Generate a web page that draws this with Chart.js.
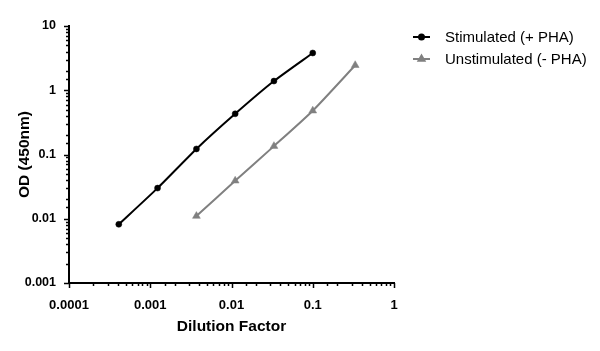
<!DOCTYPE html>
<html>
<head>
<meta charset="utf-8">
<script src="https://cdn.jsdelivr.net/npm/chart.js@4"></script>
<style>
  html, body { margin: 0; padding: 0; background: #fff; }
  #wrap { width: 600px; height: 351px; }
</style>
</head>
<body>
<div id="wrap"><canvas id="chart" width="600" height="351"></canvas></div>
<script>
// ── Data ─────────────────────────────────────────────────────────────────────
const SERIES_NAMES = ['Stimulated (+ PHA)', 'Unstimulated (- PHA)'];
const STIM_X   = [0.00041, 0.00123, 0.0037, 0.0111, 0.0333, 0.1];
const STIM_Y   = [0.0082, 0.030, 0.122, 0.43, 1.39, 3.8];
const UNSTIM_X = [0.0037, 0.0111, 0.0333, 0.1, 0.333];
const UNSTIM_Y = [0.011, 0.039, 0.135, 0.48, 2.45];
const X_RANGE  = [0.0001, 1];
const Y_RANGE  = [0.001, 10];

const BOLD = '"Liberation Sans", Arial, sans-serif';

const toPoints = (xs, ys) => xs.map((x, i) => ({ x, y: ys[i] }));
const isDecade = v => Math.abs(Math.log10(v) - Math.round(Math.log10(v))) < 1e-6;

// Axis lines with long decade ticks and short minor ticks
const axisPlugin = {
  id: 'axisPlugin',
  afterDraw(chart) {
    const { ctx, chartArea: a, scales } = chart;
    ctx.save();
    ctx.strokeStyle = '#000';
    ctx.lineWidth = 2;
    ctx.beginPath();
    ctx.moveTo(a.left, a.top - 1);
    ctx.lineTo(a.left, a.bottom);
    ctx.lineTo(a.right + 1, a.bottom);
    ctx.stroke();
    ctx.lineWidth = 1.5;
    scales.y.ticks.forEach(t => {
      const py = Math.round(scales.y.getPixelForValue(t.value)) + 0.5;
      const len = isDecade(t.value) ? 5 : 3;
      ctx.beginPath(); ctx.moveTo(a.left - len, py); ctx.lineTo(a.left, py); ctx.stroke();
    });
    scales.x.ticks.forEach(t => {
      const px = Math.round(scales.x.getPixelForValue(t.value)) + 0.5;
      const len = isDecade(t.value) ? 5 : 3;
      ctx.beginPath(); ctx.moveTo(px, a.bottom); ctx.lineTo(px, a.bottom + len); ctx.stroke();
    });
    ctx.restore();
  }
};

// Legend to the right of the plot
const legendPlugin = {
  id: 'sideLegend',
  afterDraw(chart) {
    const { ctx } = chart;
    ctx.save();
    ctx.font = '15px ' + BOLD;
    ctx.textBaseline = 'middle';
    chart.data.datasets.forEach((ds, i) => {
      const y = 37 + i * 22;
      ctx.strokeStyle = ds.borderColor;
      ctx.fillStyle = ds.borderColor;
      ctx.lineWidth = 2;
      ctx.beginPath(); ctx.moveTo(413, y); ctx.lineTo(430, y); ctx.stroke();
      Chart.helpers.drawPoint(ctx, { pointStyle: ds.pointStyle, radius: ds.pointStyle === 'triangle' ? 3.5 : 2.5, borderWidth: 1 }, 421.5, y);
      ctx.fill();
      ctx.fillStyle = '#000';
      ctx.fillText(ds.label, 445, y + 1);
    });
    ctx.restore();
  }
};

new Chart(document.getElementById('chart'), {
  type: 'line',
  data: {
    datasets: [
      {
        label: SERIES_NAMES[0],
        data: toPoints(STIM_X, STIM_Y),
        borderColor: '#000',
        backgroundColor: '#000',
        borderWidth: 2,
        pointStyle: 'circle',
        pointRadius: 3,
        pointBorderWidth: 0.5,
        tension: 0.2,
      },
      {
        label: SERIES_NAMES[1],
        data: toPoints(UNSTIM_X, UNSTIM_Y),
        borderColor: '#808080',
        backgroundColor: '#808080',
        borderWidth: 2,
        pointStyle: 'triangle',
        pointRadius: 4.5,
        pointBorderWidth: 0.5,
        tension: 0.2,
      }
    ]
  },
  options: {
    responsive: false,
    animation: false,
    events: [],
    layout: { padding: { top: 26, right: 206, left: 0, bottom: 0 } },
    plugins: { legend: { display: false }, tooltip: { enabled: false } },
    scales: {
      x: {
        type: 'logarithmic',
        min: X_RANGE[0], max: X_RANGE[1],
        grid: { display: false },
        border: { display: false },
        afterFit: s => { s.height = 68; },
        ticks: {
          autoSkip: false, maxRotation: 0, padding: 7,
          color: '#000', font: { family: BOLD, size: 13, weight: 'bold' },
          callback: v => isDecade(v) ? String(v) : ''
        },
        title: { display: true, text: 'Dilution Factor', color: '#000',
                 font: { family: BOLD, size: 15.5, weight: 'bold' }, padding: { bottom: 15 } }
      },
      y: {
        type: 'logarithmic',
        min: Y_RANGE[0], max: Y_RANGE[1],
        grid: { display: false },
        border: { display: false },
        afterFit: s => { s.width = 69; },
        ticks: {
          autoSkip: false, padding: 5,
          color: '#000', font: { family: BOLD, size: 12.5, weight: 'bold' },
          callback: v => isDecade(v) ? String(v) : ''
        },
        title: { display: true, text: 'OD (450nm)', color: '#000',
                 font: { family: BOLD, size: 15.5, weight: 'bold' }, padding: { top: 15 } }
      }
    }
  },
  plugins: [axisPlugin, legendPlugin]
});
</script>
</body>
</html>
